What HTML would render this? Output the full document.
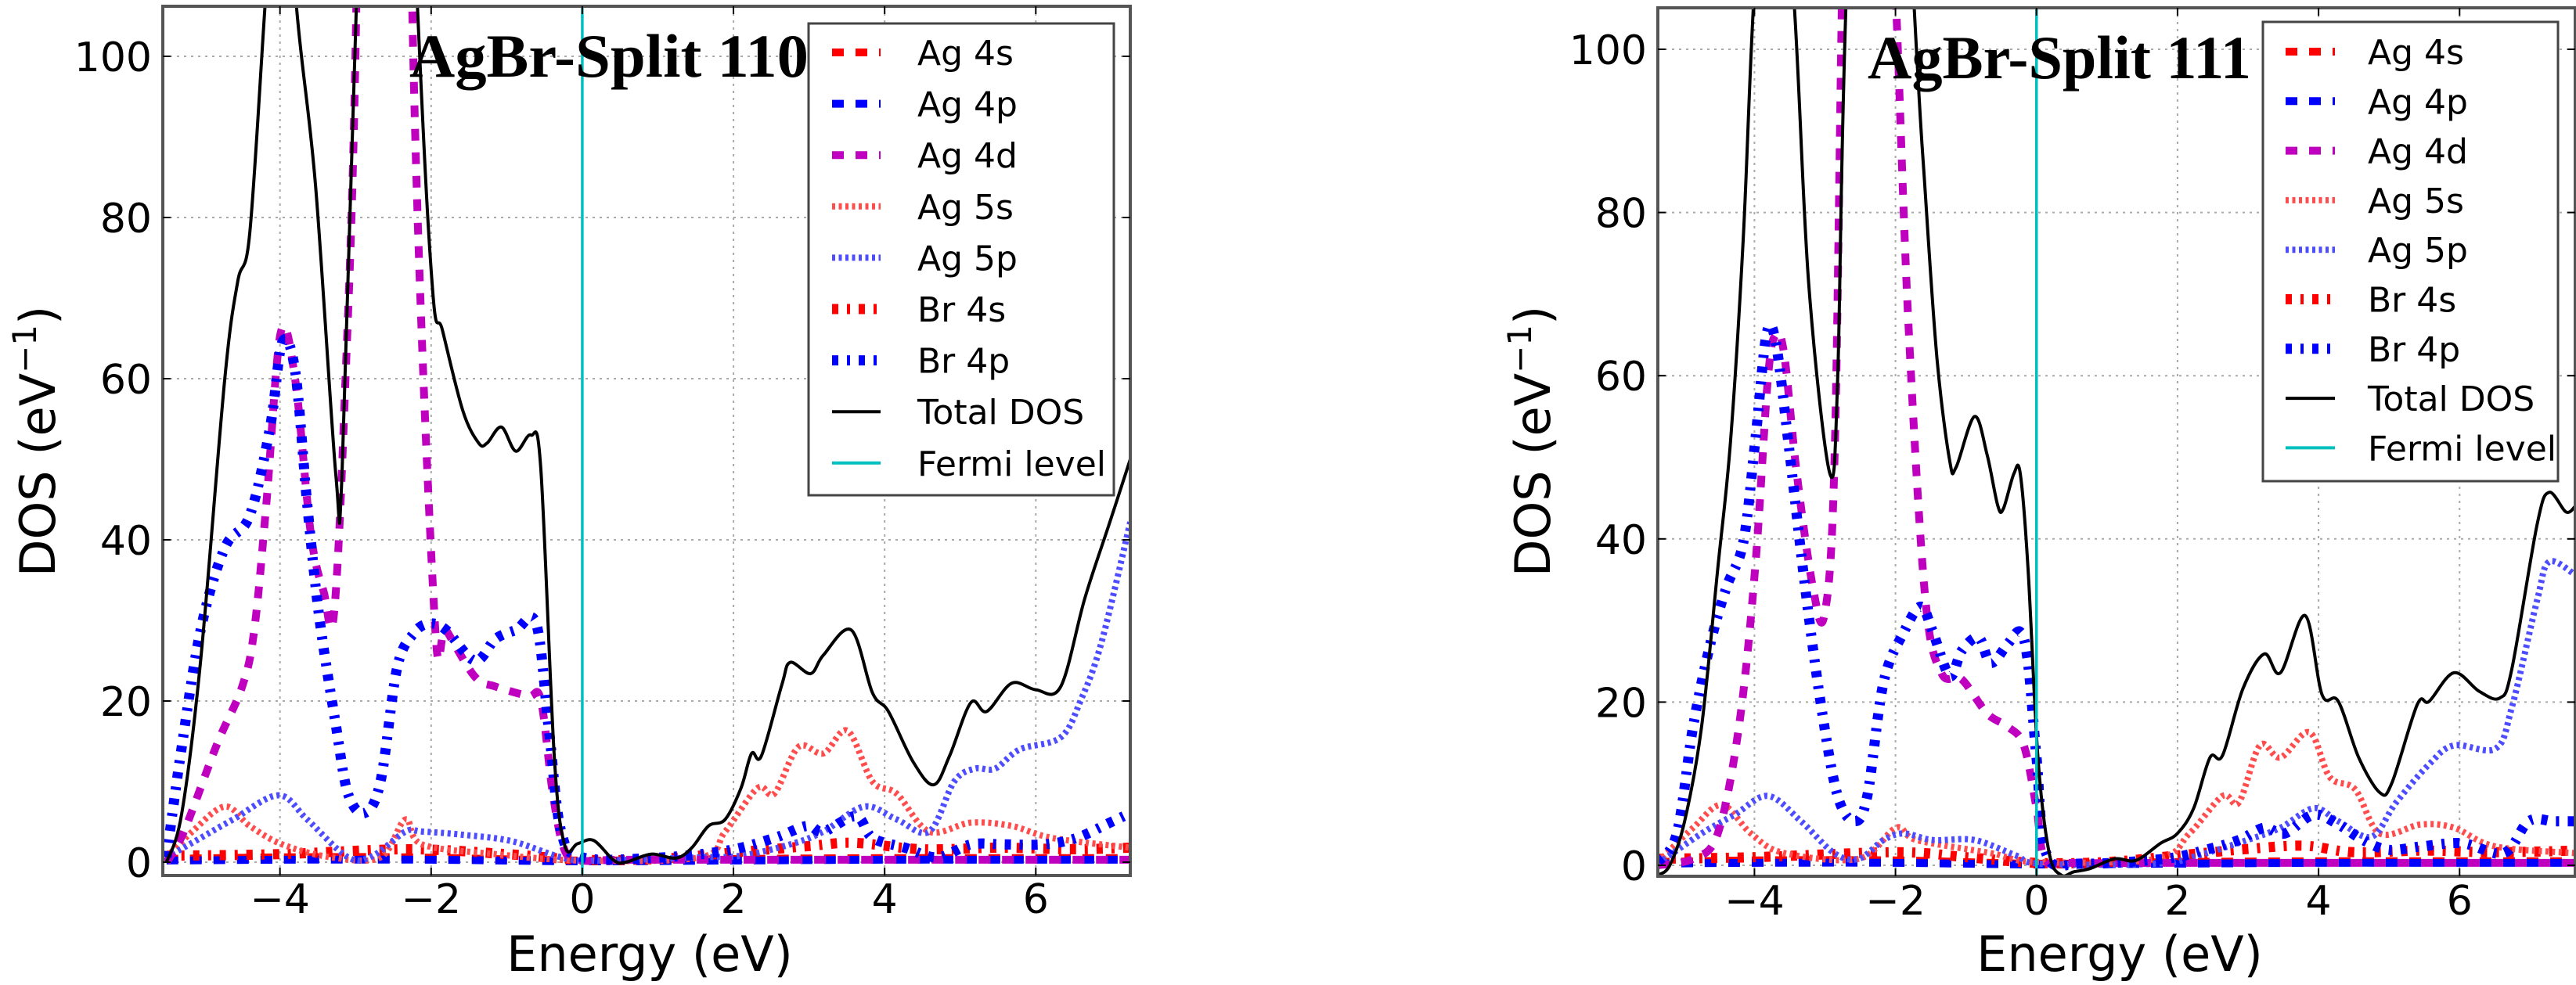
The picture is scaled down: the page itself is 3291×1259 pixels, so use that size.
<!DOCTYPE html>
<html><head><meta charset="utf-8"><style>
html,body{margin:0;padding:0;background:#fff;}
svg{display:block;}
text{font-family:"DejaVu Sans","Liberation Sans",sans-serif;}
</style></head><body>
<svg id="fig" xmlns="http://www.w3.org/2000/svg" width="3291" height="1259" viewBox="0 0 3291 1259"></svg>
<script>
// ===== Data: left panel (AgBr-Split 110) =====
const L_tot_x=[-5.5,-5.3,-5.05,-4.73,-4.56,-4.4,-4.2,-4.0,-3.78,-3.53,-3.26,-3.18,-2.99,-2.6,-2.18,-1.98,-1.85,-1.58,-1.37,-1.26,-1.07,-0.88,-0.68,-0.55,-0.37,-0.23,-0.06,0.15,0.42,0.58,0.91,1.24,1.45,1.67,1.89,2.1,2.24,2.37,2.64,2.75,3.02,3.19,3.56,3.84,4.05,4.38,4.65,4.86,5.14,5.35,5.68,6.0,6.33,6.65,6.98,7.25];
const L_tot_y=[0,6,25,60,72,78,106,135,106,84,48,48,106,200,106,71,66,56,52,52,54,51,53,49,13,2,2.3,2.7,0.2,0,1,0.5,1.8,4.5,5.3,9.2,13.5,13.2,22,24.8,23.4,25.7,28.8,21,18.7,12.4,9.6,13.2,19.8,18.7,22.2,21.4,21.8,32.8,42.2,50];
const L_d_x=[-5.5,-5.27,-4.83,-4.5,-4.34,-4.18,-3.99,-3.8,-3.59,-3.42,-3.29,-3.15,-2.99,-2.85,-2.6,-2.35,-2.25,-1.96,-1.8,-1.42,-1.15,-0.72,-0.55,-0.39,-0.23,0,0.5,2,4,6,7.25];
const L_d_y=[0,3.8,14.7,21.8,28.8,44.5,65.7,60,40.6,33.5,30.4,56,106,220,160,220,106,31.2,28.8,23,21.8,20.6,20.2,8.5,1.4,0.2,0.3,0.3,0.3,0.3,0.3];
const L_b4p_x=[-5.5,-5.32,-5.05,-4.73,-4.4,-4.13,-3.97,-3.8,-3.64,-3.48,-3.26,-3.1,-2.88,-2.67,-2.45,-2.23,-2.02,-1.8,-1.42,-1.15,-0.88,-0.61,-0.44,-0.28,0,0.9,1.89,2.54,2.97,3.19,3.62,3.84,4.27,4.7,5.14,5.57,6.11,6.54,6.98,7.25];
const L_b4p_y=[0.6,13,28.8,39,43,54,64.5,61,44.5,30.4,17,8.5,6.1,10,24.1,28.4,29.6,28.8,25,27.7,28.8,29.6,16.3,3.8,0.6,0.5,1.4,3,4.5,3.8,5.7,3,1.8,0.6,2.2,2.2,2.2,3,4.9,6.1];
const L_5p_x=[-5.5,-5.05,-4.62,-4.02,-3.64,-3.1,-2.77,-2.34,-2.12,-1.58,-0.93,-0.28,0.15,1.56,2.1,2.75,3.19,3.73,4.16,4.59,4.92,5.19,5.46,5.79,6.33,6.6,6.87,7.25];
const L_5p_y=[0.6,3,5.3,8.3,5.3,0.6,0.8,3.8,3.8,3.4,2.6,0.6,0.2,0.6,0.8,2.2,3.8,6.9,5.3,3.8,10,11.6,11.6,14,15.5,20.2,27.3,42.2];
const L_5s_x=[-5.5,-5.16,-4.73,-4.4,-3.97,-3.32,-2.67,-2.34,-2.12,-1.15,0,1.56,1.89,2.32,2.54,2.86,3.19,3.51,3.84,4.16,4.59,5.14,5.68,6.22,7.25];
const L_5s_y=[0.6,3.8,6.9,4.5,2.2,0.6,0.6,5.3,2.2,1,0.2,0.6,3.8,9.2,8.5,14.3,13.5,16.3,10,8.5,3.8,4.9,4.5,3,1.8];
const L_4s_x=[-5.5,-4,-2.3,0,2,4,6,7.25];
const L_4s_y=[0.4,0.6,0.6,0.2,0.4,0.5,0.5,0.5];
const L_4p_x=[-5.5,-4,-2,0,2,4,6,7.25];
const L_4p_y=[0.2,0.3,0.3,0.1,0.2,0.3,0.3,0.3];
const L_b4s_x=[-5.5,-4,-2.3,-1,0,1,2,3,3.6,4.5,5.5,6.5,7.25];
const L_b4s_y=[0.8,1,1.6,1,0.3,0.4,1.2,2,2.4,1.6,1.8,1.6,1.8];

// ===== Data: right panel (AgBr-Split 111) =====
const R_tot_x=[-5.37,-5.2,-4.99,-4.75,-4.52,-4.34,-4.16,-4.01,-3.75,-3.44,-3.23,-2.93,-2.82,-2.7,-2.3,-1.74,-1.58,-1.41,-1.23,-1.14,-0.88,-0.7,-0.55,-0.47,-0.32,-0.23,-0.12,0.02,0.18,0.35,0.53,0.76,1.11,1.41,1.76,2,2.23,2.46,2.64,2.93,3.23,3.46,3.81,4.05,4.28,4.57,4.87,5.04,5.4,5.57,5.92,6.28,6.57,6.74,7.1,7.27,7.51,7.64];
const R_tot_y=[-1.2,0,5.4,17,36.4,51.9,76.6,106,140,106,71.2,48,59.6,106,200,106,82.8,62,49.5,48.8,55,50.3,44.1,43.7,48,48,36.4,13.2,1.5,-1.2,-0.8,-0.4,0.8,0.6,2.7,3.9,7,13.2,13.5,21.7,25.9,23.6,30.6,20.9,20.1,13.2,8.9,10.1,19.7,20.1,23.6,21.3,20.5,24,41.8,45.7,43.3,44];
const R_d_x=[-5.37,-4.87,-4.52,-4.22,-3.99,-3.81,-3.7,-3.58,-3.4,-3.17,-3.01,-2.87,-2.76,-2.6,-2.3,-2.05,-1.99,-1.82,-1.58,-1.35,-1.06,-0.7,-0.41,-0.18,0,0.12,0.5,2,4,6,7.64];
const R_d_y=[0,0.8,3.9,17,36.4,59.6,65,62.7,48,34,30.6,48,106,200,150,108,105,67,33,23.6,22.8,18.6,17,14.7,7,0.8,0.3,0.3,0.3,0.3,0.3];
const R_b4p_x=[-5.37,-5.1,-4.87,-4.63,-4.4,-4.16,-3.99,-3.83,-3.7,-3.52,-3.28,-3.05,-2.82,-2.58,-2.4,-2.17,-1.88,-1.64,-1.47,-1.23,-1.06,-0.82,-0.65,-0.41,-0.23,-0.12,0,0.15,0.65,1.82,2.4,2.87,3.23,3.52,3.93,4.28,4.63,4.99,5.45,6.04,6.63,6.98,7.33,7.64];
const R_b4p_y=[0.4,3.9,17,27,34,39.5,51.9,65,64.2,51.9,34,19.3,8.5,5.4,8.5,22.4,28.6,31.7,28.6,23.2,26.3,27.9,24.8,27.1,28.6,24.8,13.2,1.2,0.2,0.8,1.9,3.1,4.6,3.9,6.2,5,3.1,1.9,2.3,2.7,1.5,5.4,5.4,5.4];
const R_5p_x=[-5.37,-4.75,-4.28,-3.81,-3.34,-2.87,-2.52,-2.17,-1.88,-1.47,-0.88,-0.29,0.06,1.7,2.29,2.99,3.46,3.93,4.28,4.75,5.1,5.57,5.92,6.51,6.74,7.1,7.27,7.64];
const R_5p_y=[0.2,3.9,6.2,8.5,5.4,1.5,0.8,3.1,3.9,3.1,3.1,1.2,0.2,0.2,1.2,3.1,4.6,7,5.4,3.5,7.7,12.4,14.7,14.3,19.3,32.5,37.2,35.6];
const R_5s_x=[-5.37,-4.87,-4.46,-4.05,-3.58,-2.52,-1.99,-1.7,-0.65,0,1.7,2.17,2.64,2.87,3.17,3.46,3.87,4.16,4.52,4.87,5.45,5.92,6.51,7.64];
const R_5s_y=[0.4,4.6,7.4,3.9,1.5,0.8,4.6,3.1,1.5,0.4,0.8,3.9,8.5,7.7,14.7,13.2,16.3,10.8,9.3,3.9,5,4.6,2.3,1.5];
const R_4s_x=[-5.37,-4,-2,0,2,4,6,7.64];
const R_4s_y=[0.4,0.6,0.6,0.2,0.4,0.5,0.5,0.5];
const R_4p_x=[-5.37,-4,-2,0,2,4,6,7.64];
const R_4p_y=[0.2,0.3,0.3,0.1,0.2,0.3,0.3,0.3];
const R_b4s_x=[-5.37,-4,-2,-1,0,1,2,3,3.8,4.5,5.5,6.5,7.64];
const R_b4s_y=[0.8,1,1.6,1,0.3,0.4,1.2,2,2.4,1.6,1.8,1.6,1.8];

const xTicks=[-4,-2,0,2,4,6];
const xTickLabels=["\u22124","\u22122","0","2","4","6"];
const yTicks=[0,20,40,60,80,100];
const yTickLabels=["0","20","40","60","80","100"];
const legendLabels=["Ag 4s","Ag 4p","Ag 4d","Ag 5s","Ag 5p","Br 4s","Br 4p","Total DOS","Fermi level"];

const NS="http://www.w3.org/2000/svg";
const svg=document.getElementById('fig');
function mk(tag,attrs,parent){const e=document.createElementNS(NS,tag);for(const k in attrs)e.setAttribute(k,attrs[k]);(parent||svg).appendChild(e);return e;}

const styles={
 ag4s:{stroke:'#ff0000',w:10,dash:'15 15'},
 ag4p:{stroke:'#0000ff',w:10,dash:'15 15'},
 ag4d:{stroke:'#bf00bf',w:10,dash:'15 15'},
 ag5s:{stroke:'#ff4d4d',w:8,dash:'4 4.5'},
 ag5p:{stroke:'#4d4dff',w:8,dash:'4 4.5'},
 br4s:{stroke:'#ff0000',w:13,dash:'8 11 4 11'},
 br4p:{stroke:'#0000ff',w:13,dash:'8 11 4 11'},
 tot:{stroke:'#000000',w:4,dash:'none'},
 fermi:{stroke:'#00bfbf',w:3.5,dash:'none'}
};
const legendKeys=['ag4s','ag4p','ag4d','ag5s','ag5p','br4s','br4p','tot','fermi'];

function smoothPath(pts){
 let d='M'+pts[0][0].toFixed(1)+','+pts[0][1].toFixed(1);
 for(let i=0;i<pts.length-1;i++){
  const p0=pts[i-1]||pts[i],p1=pts[i],p2=pts[i+1],p3=pts[i+2]||p2;
  const c1=[p1[0]+(p2[0]-p0[0])/6,p1[1]+(p2[1]-p0[1])/6];
  const c2=[p2[0]-(p3[0]-p1[0])/6,p2[1]-(p3[1]-p1[1])/6];
  d+='C'+c1[0].toFixed(1)+','+c1[1].toFixed(1)+' '+c2[0].toFixed(1)+','+c2[1].toFixed(1)+' '+p2[0].toFixed(1)+','+p2[1].toFixed(1);
 }
 return d;
}

function panel(p){
 const g=mk('g',{});
 
 
 const sx=v=>p.L+(v-p.xmin)/(p.xmax-p.xmin)*(p.R-p.L);
 const sy=v=>p.y0-v*p.ypu;
 const cid='clip-'+p.name;
 const cp=mk('clipPath',{id:cid},g);
 mk('rect',{x:p.L,y:p.T,width:p.R-p.L,height:p.B-p.T},cp);
 xTicks.forEach(t=>{const l=mk('line',{x1:sx(t),x2:sx(t),y1:p.T,y2:p.B,stroke:'#aaa','stroke-width':2,'stroke-dasharray':'3 6'},g);
  });
 yTicks.forEach(t=>{const l=mk('line',{x1:p.L,x2:p.R,y1:sy(t),y2:sy(t),stroke:'#aaa','stroke-width':2,'stroke-dasharray':'3 6'},g);
  });
 const cg=mk('g',{'clip-path':'url(#'+cid+')'},g);
 p.series.forEach(s=>{
  const st=styles[s.key];
  const pts=s.x.map((xv,i)=>[sx(xv),sy(s.y[i])]);
  const path=mk('path',{d:smoothPath(pts),fill:'none',stroke:st.stroke,'stroke-width':st.w,'stroke-dasharray':st.dash,'stroke-linejoin':'round'},cg);
  
  
 });
 const fl=mk('line',{x1:sx(0),x2:sx(0),y1:p.T,y2:p.B,stroke:styles.fermi.stroke,'stroke-width':3.5},cg);
 
 
 const fr=mk('rect',{x:p.L,y:p.T,width:p.R-p.L,height:p.B-p.T,fill:'none',stroke:'#555','stroke-width':4},g);
 
 
 xTicks.forEach((t,i)=>{
  mk('line',{x1:sx(t),x2:sx(t),y1:p.B,y2:p.B-10,stroke:'#000','stroke-width':2},g);
  mk('line',{x1:sx(t),x2:sx(t),y1:p.T,y2:p.T+10,stroke:'#000','stroke-width':2},g);
  const tx=mk('text',{x:sx(t),y:p.xLabY,'font-size':52,'text-anchor':'middle'},g);
  tx.textContent=xTickLabels[i];
  
  
 });
 yTicks.forEach((t,i)=>{
  mk('line',{x1:p.L,x2:p.L+10,y1:sy(t),y2:sy(t),stroke:'#000','stroke-width':2},g);
  mk('line',{x1:p.R,x2:p.R-10,y1:sy(t),y2:sy(t),stroke:'#000','stroke-width':2},g);
  const tx=mk('text',{x:p.L-14,y:sy(t)+19,'font-size':52,'text-anchor':'end'},g);
  tx.textContent=yTickLabels[i];
  
  
 });
 const xt=mk('text',{x:(p.L+p.R)/2+4,y:1241,'font-size':62,'text-anchor':'middle'},g);
 xt.textContent='Energy (eV)';
 
 
 const yc=564;
 const yt=mk('text',{x:p.yLabX,y:yc,'font-size':62,'text-anchor':'middle',transform:'rotate(-90 '+p.yLabX+' '+yc+')'},g);
 yt.innerHTML='DOS (eV<tspan dy="-24" font-size="42">\u22121</tspan><tspan dy="24">)</tspan>';
 
 
 const ti=mk('text',{x:p.titleX,y:p.titleY,'font-size':78,'font-weight':'bold',textLength:p.titleW,lengthAdjust:'spacingAndGlyphs',style:'font-family:"Liberation Serif",serif'},g);
 ti.textContent=p.title;
 
 
 const lg=mk('g',{},g);
 
 
 mk('rect',{x:p.lgL,y:p.lgT,width:p.lgR-p.lgL,height:p.lgB-p.lgT,fill:'#fff',stroke:'#444','stroke-width':3},lg);
 legendKeys.forEach((k,i)=>{
  const st=styles[k];const yy=p.lgY0+i*p.lgDY;
  const e=mk('g',{},lg);
  
  
  mk('line',{x1:p.lgSX0,x2:p.lgSX1,y1:yy,y2:yy,stroke:st.stroke,'stroke-width':(k==='tot'||k==='fermi')?4:st.w,'stroke-dasharray':st.dash},e);
  const t=mk('text',{x:p.lgTX,y:yy+16,'font-size':44},e);
  t.textContent=legendLabels[i];
 });
}

panel({name:'panel-110',L:208,R:1444,T:8,B:1119,xmin:-5.55,xmax:7.25,y0:1102,ypu:10.3,xLabY:1167,yLabX:70,
 title:'AgBr-Split 110',titleX:523,titleY:98,titleW:510,
 lgL:1033,lgR:1423,lgT:30,lgB:633,lgY0:67,lgDY:65.6,lgSX0:1063,lgSX1:1125,lgTX:1172,
 series:[{key:'ag4s',x:L_4s_x,y:L_4s_y},{key:'ag4p',x:L_4p_x,y:L_4p_y},{key:'br4s',x:L_b4s_x,y:L_b4s_y},
  {key:'ag5s',x:L_5s_x,y:L_5s_y},{key:'ag5p',x:L_5p_x,y:L_5p_y},{key:'ag4d',x:L_d_x,y:L_d_y},
  {key:'br4p',x:L_b4p_x,y:L_b4p_y},{key:'tot',x:L_tot_x,y:L_tot_y}]});

panel({name:'panel-111',L:2118,R:3290,T:10,B:1120,xmin:-5.37,xmax:7.64,y0:1106,ypu:10.43,xLabY:1169,yLabX:1980,
 title:'AgBr-Split 111',titleX:2386,titleY:100,titleW:490,
 lgL:2891,lgR:3268,lgT:28,lgB:615,lgY0:66,lgDY:63.3,lgSX0:2920,lgSX1:2983,lgTX:3025,
 series:[{key:'ag4s',x:R_4s_x,y:R_4s_y},{key:'ag4p',x:R_4p_x,y:R_4p_y},{key:'br4s',x:R_b4s_x,y:R_b4s_y},
  {key:'ag5s',x:R_5s_x,y:R_5s_y},{key:'ag5p',x:R_5p_x,y:R_5p_y},{key:'ag4d',x:R_d_x,y:R_d_y},
  {key:'br4p',x:R_b4p_x,y:R_b4p_y},{key:'tot',x:R_tot_x,y:R_tot_y}]});
</script>
</body></html>
